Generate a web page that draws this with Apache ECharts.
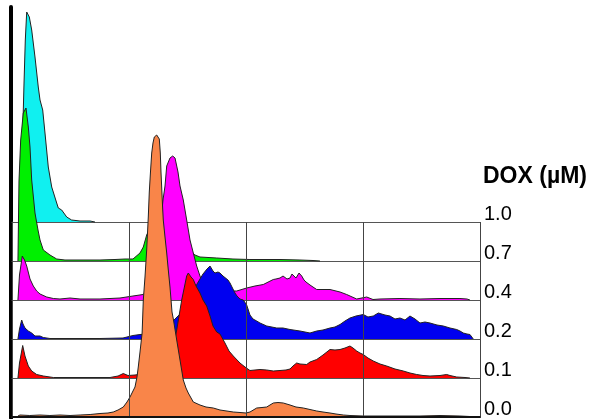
<!DOCTYPE html>
<html><head><meta charset="utf-8">
<script src="https://cdn.jsdelivr.net/npm/echarts@6/dist/echarts.min.js"></script>
<style>html,body{margin:0;padding:0;background:#fff}#c{width:593px;height:419px}</style>
</head><body><div id="c"></div>
<script>
// DOX concentrations (µM), bottom (front) to top (back)
const doseLabels = ['0.0', '0.1', '0.2', '0.4', '0.7', '1.0'];
const doseColors = ['#f98549', '#ff0000', '#0000f0', '#ff00ff', '#00f000', '#10f0f0'];
// fluorescence channel (0-1024, 4 log decades), counts
const dox00 = [[13,1],[17.5,2],[39,1.5],[61,2],[83,1.5],[105,2],[127,1.5],[149,2],[171,2.5],[192.5,3.5],[210,4],[221.6,5],[232,7],[243.5,10],[251.6,15],[258.2,20],[264.7,26],[269.1,30],[273.5,40],[276.3,50],[280.1,65],[284.7,84],[287.3,117],[291,140],[294.7,167],[298.2,200],[300.4,225],[303,245],[305.7,264],[308.5,274],[311.4,280],[316.6,282],[319.4,281],[322.3,278],[324.5,264],[326,245],[327.5,230],[329.3,212],[331,197],[334.8,180],[338.5,164],[342,147],[345.7,130],[350.1,105],[353.4,97],[360.4,77],[367.6,57],[374.8,37],[380.7,29],[385.7,24],[396.7,15],[411.3,12],[424.5,10],[440.4,9],[455.1,7],[484.2,5],[498.9,4.5],[512,4],[520.7,5],[535.4,9],[547,9.5],[557.3,10],[564.5,12],[571.7,14],[582,14.5],[593.6,14],[608.3,12],[621.4,10],[637.4,9],[652,7.5],[666.7,6],[680.5,5],[695.8,4],[708.9,3],[724.9,2],[739.5,1.5],[768.6,1],[805.2,1],[848.9,1],[892.7,1],[936.5,1.5],[980.2,1],[1002,0.5],[1013,0]];
const dox01 = [[13,0],[16.4,15],[23.4,32.5],[28.4,22],[35.7,12],[43.1,7],[54,3.5],[68.5,2],[90.4,0.5],[148.8,0.5],[214.4,0.5],[232.1,2],[243.5,4.5],[253.8,2.5],[269.1,3],[302,5],[334.8,10],[350.1,25],[360.4,48],[371.3,78],[382.2,102],[385.7,105],[391.7,101],[396.7,98.5],[402.6,92],[411.3,85],[417.9,78],[426,72],[433.3,62],[439.8,52],[447.9,46],[455.1,44],[466,35],[474.8,27],[484.2,22],[498.8,15],[509.8,11],[520.7,7.5],[531.7,8],[542.6,8.5],[557.3,8],[571.7,7],[586.4,7.5],[599.5,8],[608.3,9],[614.8,12],[622.9,15],[630.1,14],[644.8,13.5],[652,16],[666.7,18.5],[680.5,23],[695.8,28.5],[706.7,28],[717.7,28.5],[728.6,30],[739.5,32],[746.1,30],[754.2,27],[761.4,25],[768.6,23.5],[778.9,20],[790.5,17],[805.2,14],[819.8,12],[838,9],[856.2,7],[870.8,5],[885.5,3.5],[899.3,2.5],[914.6,2],[936.5,2.5],[951.1,3.5],[958.3,2.5],[973,1],[991.2,0.5],[1002,0]];
const dox02 = [[13,0],[16.4,10],[21.2,19],[24.1,15],[28.4,11],[35.7,8],[43.1,6],[50.3,3],[61.3,3],[68.5,1.5],[83.1,0.5],[126.9,0.5],[192.5,0.5],[242.9,1],[264.7,3.5],[280,4.5],[302,5],[323.8,8],[345.7,15],[367.6,25],[389.5,40],[404.8,55],[411.3,60],[417.9,65],[426.7,70],[433.2,73],[439.8,68],[444.2,66],[450.7,67],[455.1,66],[461.7,63],[466,61],[472.6,59],[477,56],[483.5,50],[487.9,46],[492.3,43],[498.8,40],[506.1,39],[513.5,34],[520.7,24],[527.3,20],[535.4,18],[542.6,16],[557.3,13],[579.2,11],[592.9,11],[608.3,9.5],[630.1,8],[652,6],[666.7,8],[680.5,9],[695.8,11],[706.7,12],[717.7,14.5],[728.6,18],[739.5,21],[752.7,23],[768.6,24.5],[778.9,22],[790.5,23],[801.5,26],[816.1,24],[827.1,23],[838,20],[848.9,21],[859.9,19],[870.8,23],[881.8,20],[892.7,16],[903.6,17],[914.6,16],[929.9,14],[943.7,13],[958.3,11],[973,9.5],[980.2,8],[987.4,6],[995.5,5],[1002,4.5],[1009.3,0]];
const dox04 = [[13,0],[16.4,25],[22.5,44],[27.4,40],[32.2,34],[39.4,21],[46.6,14],[54,9],[61.3,6],[75.9,3],[90.4,1.5],[105,1],[126.9,2],[148.8,1],[192.5,1],[236.3,2],[264.7,4],[286.6,5.5],[302,10],[312.9,30],[323.8,70],[330.4,100],[334.8,114],[338.5,134],[345.7,142],[351.6,144],[356.7,142],[360.4,140],[363.2,128],[367.6,114],[374.8,100],[382.2,80],[389.5,60],[396.7,47],[404.1,34],[411.3,24],[417.3,17],[424.5,14],[433.3,12],[455.1,10],[477,9],[491.6,9],[513.5,12],[531.7,14],[549.8,15.5],[571.7,20.5],[577.6,21],[586.4,22],[593,24],[601.7,21],[608.3,22],[612.6,26],[621.4,22],[628,27],[633.9,24],[638.9,20],[643.3,18],[652,15],[666.7,10.5],[695.8,10.5],[717.7,8],[732.3,5.5],[754.2,1],[776.1,3],[789.9,0.5],[805.2,1],[848.9,1.5],[892.7,1],[936.5,1.5],[980.2,1.5],[995.5,1],[1002,0]];
const dox07 = [[13,0],[15.3,80],[19,121],[24.7,148],[30.6,153],[35.7,134],[39.4,114],[43.1,81],[50.3,48],[56.9,31],[61.3,21],[68.5,11],[83.1,6],[97.8,2],[115.9,1],[148.8,1],[192.5,1],[225.4,1.5],[247.2,2],[264.7,2],[280,8],[287.3,14],[294.7,26],[302,33],[312.9,38],[323.8,38],[345.7,32],[367.6,22],[389.5,10],[400.4,6],[411.3,4],[447.9,3],[483.5,2],[520.7,1.5],[586.4,1.5],[630.1,1],[658.6,0.5],[673.9,0]];
const dox10 = [[15.3,0],[19,2],[20.8,40],[23.4,89],[26.3,139],[29.1,182],[32.2,210],[33.9,208],[37.9,205],[43.1,192],[50.3,165],[57.5,135],[61.3,122],[67.2,112],[72.2,89],[79.4,55],[86.9,35],[97.8,19],[101.3,14],[108.7,12],[119.7,5],[130.4,2],[148.8,1],[170.7,1],[181.6,0]];
const histograms = [dox00, dox01, dox02, dox04, dox07, dox10];

const chart = echarts.init(document.getElementById('c'), null, {renderer: 'canvas'});
const FONT = 'Liberation Sans, Arial, Helvetica, sans-serif';
const plotLeft = 12, plotWidth = 468, frameTop = 222, frameBottom = 417;
const step = (frameBottom - frameTop) / (doseLabels.length - 1);
const layerH = 212, countMax = 212;

const grid = [], xAxis = [], yAxis = [], series = [];
// frame grid: gridlines + dose labels
grid.push({left: plotLeft, width: plotWidth, top: frameTop, height: frameBottom - frameTop});
xAxis.push({gridIndex: 0, type: 'value', min: 0, max: 1024, interval: 256, z: 10,
  axisLine: {show: true, lineStyle: {color: '#111', width: 2}}, axisTick: {show: false}, axisLabel: {show: false},
  splitLine: {show: true, lineStyle: {color: '#444', width: 1}}});
yAxis.push({gridIndex: 0, type: 'value', position: 'right', min: 0, max: doseLabels.length - 1, interval: 1, z: 10,
  axisLine: {show: true, lineStyle: {color: '#444', width: 1}}, axisTick: {show: false},
  splitLine: {show: false},
  axisLabel: {show: true, margin: 4, color: '#000', fontSize: 20, fontFamily: FONT,
    verticalAlign: 'bottom', lineHeight: 15, formatter: v => doseLabels[Math.round(v)] || ''}});
// black left axis
grid.push({left: 10.5, width: 100, top: 7, height: 411});
xAxis.push({gridIndex: 1, type: 'value', show: false, min: 0, max: 1});
yAxis.push({gridIndex: 1, type: 'value', min: 0, max: 1, axisLine: {show: true, lineStyle: {color: '#000', width: 4}},
  axisTick: {show: false}, axisLabel: {show: false}, splitLine: {show: false}});
// layer grids, back (1.0) to front (0.0)
for (let k = histograms.length - 1; k >= 0; k--) {
  const base = frameBottom - step * k;
  const gi = grid.length;
  grid.push({left: plotLeft, width: plotWidth, top: base - layerH, height: layerH});
  xAxis.push({gridIndex: gi, type: 'value', min: 0, max: 1024, z: 0,
    axisLine: {show: true, onZero: false, lineStyle: {color: '#555', width: 1}}, axisTick: {show: false}, axisLabel: {show: false}, splitLine: {show: false}});
  yAxis.push({gridIndex: gi, type: 'value', min: 0, max: countMax, show: false, splitLine: {show: false}});
  series.push({type: 'line', name: doseLabels[k], xAxisIndex: gi, yAxisIndex: gi, data: histograms[k],
    showSymbol: false, symbol: 'none', clip: false, z: 2 + (histograms.length - k), silent: true, animation: false,
    lineStyle: {color: '#222', width: 1}, areaStyle: {color: doseColors[k], opacity: 1}});
}
chart.setOption({
  animation: false,
  backgroundColor: '#fff',
  title: {text: 'DOX (µM)', left: 483, top: 165, padding: 0, textStyle: {fontSize: 23, fontWeight: 'bold', color: '#000', fontFamily: FONT}},
  grid, xAxis, yAxis, series
});
</script></body></html>
